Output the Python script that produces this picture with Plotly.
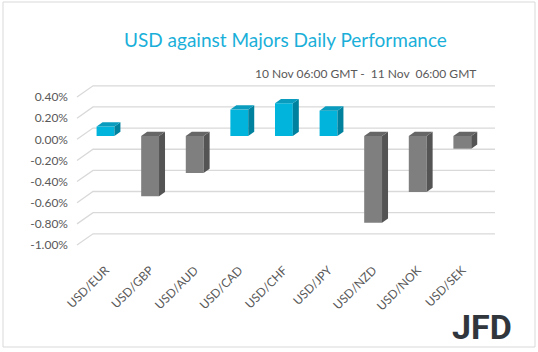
import plotly.graph_objects as go

# ---- data ----
pairs = ["USD/EUR", "USD/GBP", "USD/AUD", "USD/CAD", "USD/CHF",
         "USD/JPY", "USD/NZD", "USD/NOK", "USD/SEK"]
changes = [0.09, -0.57, -0.35, 0.25, 0.31, 0.24, -0.82, -0.53, -0.12]
y_ticks = [0.40, 0.20, 0.00, -0.20, -0.40, -0.60, -0.80, -1.00]
y_tick_labels = ["0.40%", "0.20%", "0.00%", "-0.20%", "-0.40%", "-0.60%", "-0.80%", "-1.00%"]

# ---- layout constants ----
W, H = 538, 352
ML, MR, MT, MB = 73, 38, 80, 92
PW, PH = W - ML - MR, H - MT - MB
X_RANGE = [-0.7287, 8.845]
Y_RANGE = [-1.142, 0.561]        # front plane (labels)
Y2_RANGE = [-1.173, 0.530]       # bar plane
BAR_W = 0.4
DX, DY = 0.1345, 0.0407          # bar depth (x units, % units)
GX_FRONT, GX_BACK, GX_END = -0.639, -0.280, 8.733
G_BACK_DY = 0.106

POS = dict(front="#00B4DC", side="#00829F", top="#0A9CBE")
NEG = dict(front="#7F7F7F", side="#545454", top="#666666")


def px_to_paper(px, py):
    return (px - ML) / PW, 1 - (py - MT) / PH


fig = go.Figure()

# grid (floor diagonals + back wall lines)
gx, gy = [], []
for t in y_ticks:
    gx += [GX_FRONT, GX_BACK, GX_END, None]
    gy += [t, t + G_BACK_DY, t + G_BACK_DY, None]
fig.add_trace(go.Scatter(x=gx, y=gy, mode="lines", line=dict(color="#D9D9D9", width=1.3),
                         hoverinfo="skip", showlegend=False))

# 3D faces (side + top) computed from data
for i, v in enumerate(changes):
    c = POS if v >= 0 else NEG
    hi, lo = max(v, 0), min(v, 0)
    xr = i + BAR_W / 2
    xl = i - BAR_W / 2
    fig.add_trace(go.Scatter(
        x=[xr, xr + DX, xr + DX, xr, xr], y=[lo, lo + DY, hi + DY, hi, lo],
        fill="toself", fillcolor=c["side"], mode="lines", line=dict(width=0, color=c["side"]),
        yaxis="y2", hoverinfo="skip", showlegend=False))
    fig.add_trace(go.Scatter(
        x=[xl, xl + DX, xr + DX, xr, xl], y=[hi, hi + DY, hi + DY, hi, hi],
        fill="toself", fillcolor=c["top"], mode="lines", line=dict(width=0, color=c["top"]),
        yaxis="y2", hoverinfo="skip", showlegend=False))

# front faces
fig.add_trace(go.Bar(
    x=list(range(len(pairs))), y=changes, width=BAR_W, yaxis="y2",
    marker=dict(color=[POS["front"] if v >= 0 else NEG["front"] for v in changes], line=dict(width=0)),
    showlegend=False))

fig.update_layout(
    width=W, height=H, margin=dict(l=ML, r=MR, t=MT, b=MB),
    paper_bgcolor="white", plot_bgcolor="white",
    font=dict(family="Lato, Carlito, sans-serif", color="#595959"),
    xaxis=dict(range=X_RANGE, tickmode="array", tickvals=list(range(len(pairs))), ticktext=pairs,
               tickangle=-45, showgrid=False, zeroline=False, showline=False, ticks="",
               ticklabelstandoff=0, tickfont=dict(size=12, color="#595959")),
    yaxis=dict(range=Y_RANGE, tickmode="array", tickvals=y_ticks, ticktext=y_tick_labels,
               showgrid=False, zeroline=False, showline=False, ticks="",
               ticklabelstandoff=4, tickfont=dict(size=12, color="#595959")),
    yaxis2=dict(range=Y2_RANGE, overlaying="y", visible=False),
)

tx, ty = px_to_paper(285, 40)
fig.add_annotation(x=tx, y=ty, xref="paper", yref="paper", showarrow=False,
                   xanchor="center", yanchor="middle",
                   text="USD against Majors Daily Performance",
                   font=dict(size=19, color="#1AAFD9", family="Lato, sans-serif"))
sx, sy = px_to_paper(478, 74)
fig.add_annotation(x=sx, y=sy, xref="paper", yref="paper", showarrow=False,
                   xanchor="right", yanchor="middle",
                   text="10 Nov 06:00 GMT -  11 Nov  06:00 GMT",
                   font=dict(size=12, color="#595959", family="Lato, sans-serif"))
lx, ly = px_to_paper(514, 327)
fig.add_annotation(x=lx, y=ly, xref="paper", yref="paper", showarrow=False,
                   xanchor="right", yanchor="middle",
                   text="<b>JFD</b>",
                   font=dict(size=34, color="#30363C", family="Roboto, sans-serif"))

bx0, by0 = px_to_paper(3, 2)
bx1, by1 = px_to_paper(535, 347)
fig.add_shape(type="rect", xref="paper", yref="paper", x0=bx0, y0=by1, x1=bx1, y1=by0,
              line=dict(color="#D9D9D9", width=1), layer="below")

fig.write_html("out.html")
